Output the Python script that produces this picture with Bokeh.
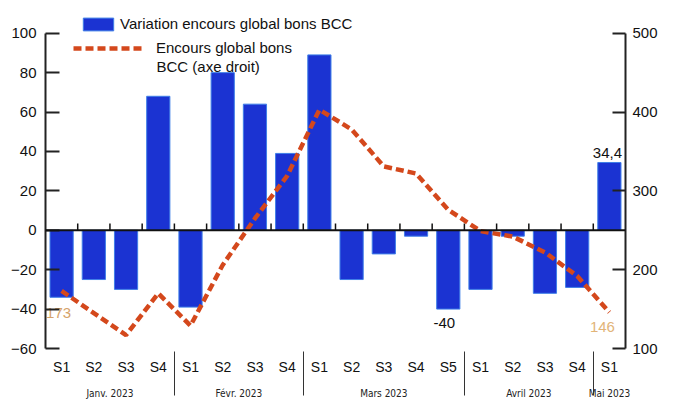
from bokeh.plotting import figure
from bokeh.models import (FactorRange, Range1d, LinearAxis, Legend, LegendItem, Span,
                          ColumnDataSource, FixedTicker, Label)
from bokeh.core.properties import value
from bokeh.embed import file_html
from bokeh.resources import INLINE

# ---- data ----
months = ["Janv. 2023", "Févr. 2023", "Mars 2023", "Avril 2023", "Mai 2023"]
weeks = [["S1", "S2", "S3", "S4"],
         ["S1", "S2", "S3", "S4"],
         ["S1", "S2", "S3", "S4", "S5"],
         ["S1", "S2", "S3", "S4"],
         ["S1"]]
variation = [-34, -25, -30, 68, -39, 80, 64, 39, 89, -25, -12, -3, -40, -30, -3, -32, -29, 34.4]
encours = [173, 145, 117, 170, 129, 206, 265, 319, 403, 378, 331, 322, 276, 249, 242, 222, 192, 146]
left_ticks = [-60, -40, -20, 0, 20, 40, 60, 80, 100]
right_ticks = [100, 200, 300, 400, 500]

factors = [(m, w) for m, ws in zip(months, weeks) for w in ws]

FONT = "Liberation Sans"
NARROW = "'DejaVu Sans Condensed', 'Liberation Sans', sans-serif"
BAR = "#1b33d2"
LINE = "#d4481c"

W, H = 660, 401
TOP_GAP = 23                # px of frame above the labelled axis span
BL, BR, BT, BB = 45, 33, 33 - TOP_GAP, 49
FH = H - BT - BB            # frame height in px
AXIS_PX = FH - TOP_GAP      # px covered by the labelled axis span (-60..100)
L0, L1 = left_ticks[0], left_ticks[-1]
R0, R1 = right_ticks[0], right_ticks[-1]
extra = (L1 - L0) * TOP_GAP / AXIS_PX
ratio = (R1 - R0) / (L1 - L0)

p = figure(width=W, height=H, x_range=FactorRange(*factors, factor_padding=0, group_padding=0,
                                                     subgroup_padding=0, range_padding=0),
           y_range=Range1d(L0, L1 + extra), output_backend="svg", toolbar_location=None,
           min_border_left=BL, min_border_right=BR, min_border_top=BT, min_border_bottom=BB)
p.extra_y_ranges = {"right": Range1d(R0, R1 + extra * ratio)}
p.xgrid.visible = False
p.ygrid.visible = False
p.outline_line_color = None
p.background_fill_color = "white"
p.border_fill_color = "white"

src = ColumnDataSource(dict(x=factors, var=variation, enc=encours))

bars = p.vbar(x="x", top="var", width=0.72, source=src, fill_color=BAR,
              line_color="#3f7fe8", line_width=1)

p.add_layout(Span(location=0, dimension="width", line_color="#111111", line_width=2))

# small boundary ticks on the zero line
bx = [(m, w, 0.5) for (m, w) in factors[:-1]]
p.segment(x0=bx, y0=[0] * len(bx), x1=bx, y1=[3.5] * len(bx), line_color="#111111", line_width=1.5)

line = p.line(x="x", y="enc", source=src, y_range_name="right", line_color=LINE,
              line_width=4.5, line_dash="8 4")

# value labels
p.text(x=[factors[0]], y=[encours[0]], text=[f"{encours[0]}"], y_range_name="right",
       text_font=value(FONT), text_font_size="15px", text_color="#d6a36a",
       text_align="center", text_baseline="middle", x_offset=-3, y_offset=22)
p.text(x=[factors[-1]], y=[encours[-1]], text=[f"{encours[-1]}"], y_range_name="right",
       text_font=value(FONT), text_font_size="15px", text_color="#e2b478",
       text_align="center", text_baseline="middle", x_offset=-7, y_offset=15)
p.text(x=[factors[12]], y=[variation[12]], text=[f"{variation[12]:g}"],
       text_font=value(FONT), text_font_size="15px", text_color="#111111",
       text_align="center", text_baseline="top", x_offset=-4, y_offset=9)
p.text(x=[factors[-1]], y=[variation[-1]], text=[f"{variation[-1]:g}".replace(".", ",")],
       text_font=value(FONT), text_font_size="15px", text_color="#111111",
       text_align="center", text_baseline="bottom", x_offset=-2, y_offset=-4)

# axes
yl = p.yaxis[0]
yl.ticker = FixedTicker(ticks=left_ticks)
yl.bounds = (L0, L1)
yl.major_tick_in = 14
yl.major_tick_out = 0
yl.minor_tick_line_color = None
yl.axis_line_width = 2
yl.axis_line_color = "#222222"
yl.major_tick_line_width = 2
yl.major_tick_line_color = "#222222"
yl.major_label_text_font = FONT
yl.major_label_text_font_size = "15px"
yl.major_label_text_color = "#111111"
yl.major_label_standoff = 9

yr = LinearAxis(y_range_name="right", ticker=FixedTicker(ticks=right_ticks), bounds=(R0, R1))
yr.major_tick_in = 13
yr.major_tick_out = 0
yr.minor_tick_line_color = None
yr.axis_line_width = 2
yr.axis_line_color = "#222222"
yr.major_tick_line_width = 2
yr.major_tick_line_color = "#222222"
yr.major_label_text_font = FONT
yr.major_label_text_font_size = "15px"
yr.major_label_text_color = "#111111"
yr.major_label_standoff = 7
p.add_layout(yr, "right")

xa = p.xaxis[0]
xa.axis_line_color = None
xa.major_tick_line_color = None
xa.major_tick_in = 0
xa.major_tick_out = 0
xa.major_label_standoff = 10
xa.major_label_text_font = FONT
xa.major_label_text_font_size = "14px"
xa.major_label_text_color = "#111111"
xa.group_text_font = NARROW
xa.group_text_font_size = "10px"
xa.group_text_color = "#222222"
xa.group_text_font_style = "normal"
xa.separator_line_color = "#333333"
xa.separator_line_width = 1

# legends
common = dict(padding=0, margin=0, spacing=0, background_fill_alpha=0, border_line_color=None,
              label_text_font=FONT, label_text_font_size="15px", label_text_color="#111111",
              glyph_height=16, label_height=16)
leg1 = Legend(items=[LegendItem(label="Variation encours global bons BCC", renderers=[bars])],
              location=(34, FH - 10 - 16), glyph_width=38, label_standoff=3, **common)
leg2 = Legend(items=[LegendItem(label="Encours global bons", renderers=[line])],
              location=(28, FH - 34 - 16), glyph_width=72, label_standoff=11, **common)
p.add_layout(leg1)
p.add_layout(leg2)
p.add_layout(Label(x=111, y=FH - 60, x_units="screen", y_units="screen", text="BCC (axe droit)",
                   text_font=FONT, text_font_size="15px", text_color="#111111",
                   text_baseline="middle"))

open("out.html", "w").write(file_html(p, INLINE))
